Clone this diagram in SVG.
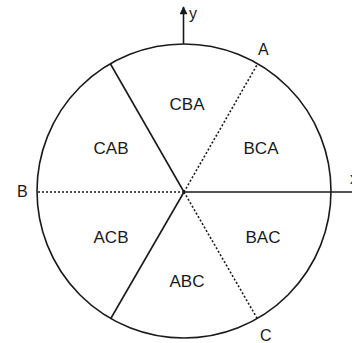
<svg xmlns="http://www.w3.org/2000/svg" width="352" height="343" viewBox="0 0 352 343">
<style>
.ln{stroke:#1a1a1a;stroke-width:1.6;fill:none}
.dt{stroke:#1a1a1a;stroke-width:1.6;fill:none;stroke-dasharray:2 2}
.t{font-family:"Liberation Sans",Arial,sans-serif;font-size:17px;fill:#1a1a1a;text-anchor:middle}
.lb{font-family:"Liberation Sans",Arial,sans-serif;font-size:16px;fill:#1a1a1a}
</style>
<defs>
<marker id="ah" viewBox="0 0 10 10" refX="9" refY="5" markerWidth="12" markerHeight="8" markerUnits="userSpaceOnUse" orient="auto">
<path d="M0,0 L10,5 L0,10 z" fill="#1a1a1a"/>
</marker>
</defs>
<g id="connectors">
<circle class="ln" cx="184" cy="191" r="147"/>
<line class="ln" x1="184" y1="192" x2="352" y2="192"/>
<line class="ln" x1="184" y1="192" x2="110.5" y2="64"/>
<line class="ln" x1="184" y1="192" x2="110.5" y2="319"/>
<line class="dt" x1="184" y1="192" x2="257.5" y2="64"/>
<line class="dt" x1="184" y1="192" x2="37" y2="192"/>
<line class="dt" x1="184" y1="192" x2="257.5" y2="319"/>
<line class="ln" x1="183.5" y1="44" x2="183.5" y2="7" marker-end="url(#ah)"/>
</g>
<g id="labels">
<text class="lb" x="189" y="19">y</text>
<text class="lb" x="350" y="184">x</text>
<text class="lb" x="258" y="55">A</text>
<text class="lb" x="17" y="197">B</text>
<text class="lb" x="260" y="341">C</text>
</g>
<g id="CBA"><text class="t" x="187" y="110">CBA</text></g>
<g id="CAB"><text class="t" x="111" y="154">CAB</text></g>
<g id="BCA"><text class="t" x="261" y="154">BCA</text></g>
<g id="ACB"><text class="t" x="111" y="243">ACB</text></g>
<g id="BAC"><text class="t" x="263" y="243">BAC</text></g>
<g id="ABC"><text class="t" x="187" y="287">ABC</text></g>
</svg>
